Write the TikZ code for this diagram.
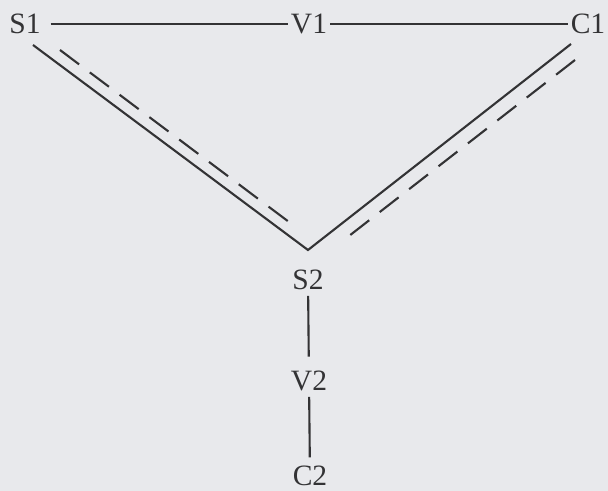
\documentclass[tikz,border=0pt]{standalone}
\usepackage{fontspec}
\setmainfont{Liberation Serif}
\usetikzlibrary{positioning}
\definecolor{pagegray}{HTML}{E8E9EC}
\definecolor{inkdark}{HTML}{333335}

\begin{document}
\begin{tikzpicture}[x=0.025cm, y=-0.025cm,
  vert/.style={font=\fontsize{21}{24}\selectfont\color{inkdark}, inner sep=1pt},
  bond/.style={draw=inkdark, line width=1.5pt},
  dbond/.style={draw=inkdark, line width=1.5pt, dash pattern=on 17pt off 9.5pt},
]
% page background, fixes the bounding box (608 x 491 px)
\fill[pagegray] (0,0) rectangle (608,491);

% top row
\node[vert] (s1) at (25,24) {S1};
\node[vert] (v1) at (309,24) {V1};
\node[vert] (c1) at (588,24) {C1};
% lower column
\node[vert] (s2) at (308,280) {S2};
\node[vert] (v2) at (309,381) {V2};
\node[vert] (c2) at (310,476) {C2};

% ends of the V-shaped double bonds
\coordinate (apex)   at (308,250);
\coordinate (s1foot) at (33,45);
\coordinate (c1foot) at (571,44);
\coordinate (s1dash) at (60,50);
\coordinate (ldash)  at (297,228);
\coordinate (c1dash) at (575,60);
\coordinate (rdash)  at (340,243);

\draw[bond, shorten <=6pt, shorten >=1pt] (s1) -- (v1);
\draw[bond, shorten <=1pt, shorten >=1pt] (v1) -- (c1);
\draw[bond] (s1foot) -- (apex) -- (c1foot);
\draw[dbond] (s1dash) -- (ldash);
\draw[dbond] (c1dash) -- (rdash);
\draw[bond, shorten <=3pt, shorten >=9pt] (s2) -- (v2);
\draw[bond, shorten <=3pt, shorten >=5pt] (v2) -- (c2);
\end{tikzpicture}
\end{document}
